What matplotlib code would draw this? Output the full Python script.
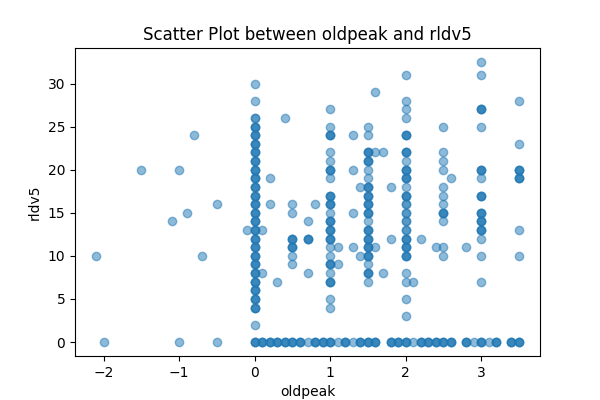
import matplotlib
matplotlib.use('Agg')
import matplotlib.pyplot as plt

# main oldpeak columns, rldv5 values
col_x = [0.0, 0.5, 0.7, 1.0, 1.5, 2.0, 2.5, 3.0, 3.5]
col_light = [
    [30, 28, 2],
    [16, 15, 10, 9],
    [14, 8],
    [27, 25, 22, 21, 19, 15, 11, 10, 8, 5, 4],
    [25, 24, 20, 19, 14, 9, 7],
    [31, 28, 27, 26, 21, 18, 8, 7, 5, 3],
    [25, 22, 21, 20, 18, 17, 16, 14, 11, 10],
    [32.5, 31, 25, 19, 12, 10, 7],
    [28, 23, 13, 10],
]
col_mid = [
    [26],
    [],
    [],
    [],
    [],
    [16, 15, 14, 13],
    [],
    [],
    [],
]
col_dark = [
    [25, 24, 23, 22, 21, 20, 19, 18, 17, 16, 15, 14, 13, 12, 11, 10, 9, 8, 7, 6, 5, 4],
    [12, 11],
    [12],
    [24, 20, 17, 16, 14, 13, 12, 9, 7],
    [22, 21, 18, 17, 16, 15, 13, 12, 11, 10, 8],
    [24, 22, 20, 19, 17, 12, 11, 10],
    [15],
    [27, 20, 17, 15, 14, 13],
    [20, 19],
]

# rldv5 == 0 row
zero_dark = [0.0, 0.1, 0.2, 0.3, 0.4, 0.5, 0.6, 0.8, 0.9, 1.0, 1.2, 1.4, 1.5, 1.6,
             1.8, 1.9, 2.0, 2.2, 2.3, 2.4, 2.5, 2.6, 2.8, 3.0, 3.2, 3.4, 3.5]
zero_light = [-2.0, -1.0, -0.5, 0.7, 1.1, 1.3, 2.1, 2.9, 3.1]

# scattered single points
stray_x = [-2.1, -1.5, -1.1, -1.0, -0.9, -0.8, -0.7, -0.5, -0.1,
           0.1, 0.1, 0.2, 0.2, 0.3, 0.4, 0.8, 1.1, 1.1, 1.3, 1.3, 1.3, 1.3,
           1.4, 1.4, 1.6, 1.6, 1.6, 1.7, 1.7, 1.8, 1.8, 2.1, 2.2, 2.4, 2.6, 2.8]
stray_y = [10, 20, 14, 20, 15, 24, 10, 16, 13,
           13, 8, 19, 16, 7, 26, 16, 11, 9, 24, 20, 15, 11,
           18, 10, 29, 22, 11, 22, 8, 18, 12, 7, 12, 11, 19, 11]

oldpeak = list(stray_x)
rldv5 = list(stray_y)
for x, light, mid, dark in zip(col_x, col_light, col_mid, col_dark):
    for v in light:
        oldpeak.append(x); rldv5.append(v)
    for v in mid:
        oldpeak += [x] * 2; rldv5 += [v] * 2
    for v in dark:
        oldpeak += [x] * 3; rldv5 += [v] * 3
for x in zero_light:
    oldpeak.append(x); rldv5.append(0)
for x in zero_dark:
    oldpeak += [x] * 3; rldv5 += [0] * 3

fig = plt.figure(figsize=(6, 4), dpi=100)
plt.scatter(oldpeak, rldv5, alpha=0.5)
plt.title('Scatter Plot between oldpeak and rldv5')
plt.xlabel('oldpeak')
plt.ylabel('rldv5')
plt.savefig('out.png')
